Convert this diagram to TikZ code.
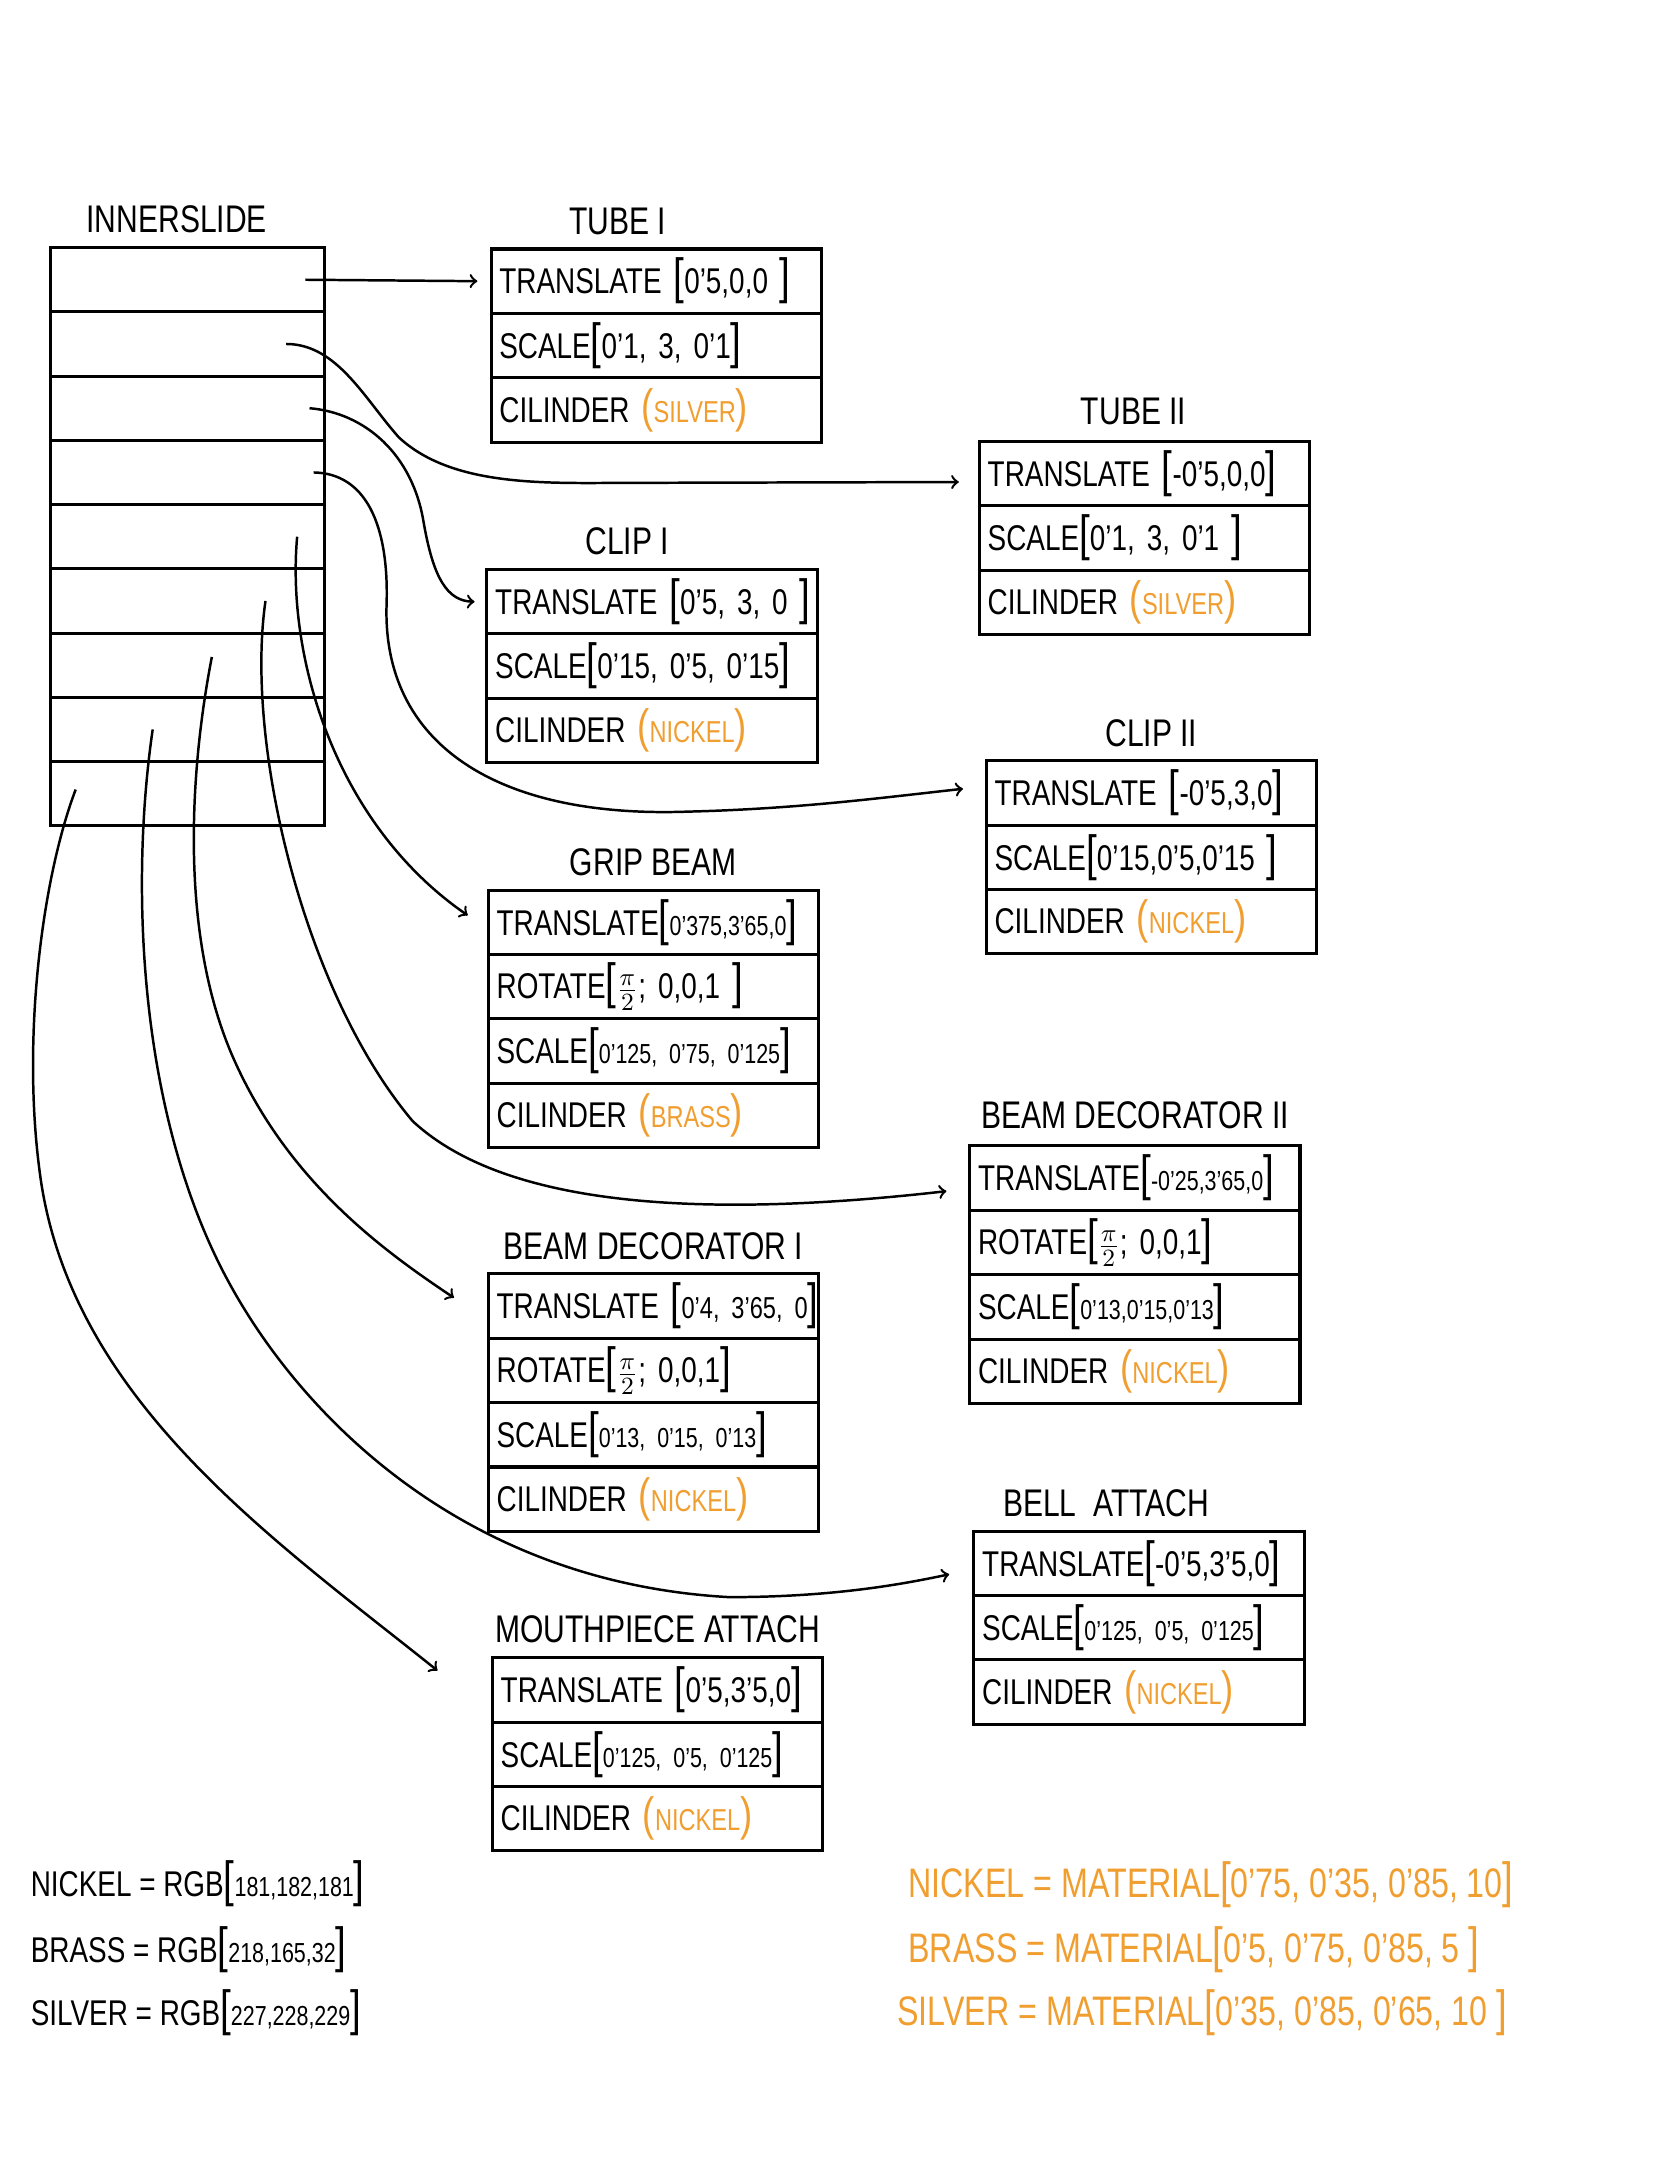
\documentclass[tikz,border=0pt]{standalone}
\usepackage{fontspec}
\setmainfont{Liberation Sans}[FakeStretch=0.78]
\usetikzlibrary{arrows,positioning}
\definecolor{matorange}{RGB}{240,158,48}
\newcommand{\br}[1]{{\fontsize{18}{18}\selectfont[}#1{\fontsize{18}{18}\selectfont]}}
\newcommand{\mat}[1]{\textcolor{matorange}{{\fontsize{17}{17}\selectfont(}{\fontsize{11}{11}\selectfont #1}{\fontsize{17}{17}\selectfont)}}}
\newcommand{\tight}[1]{{\fontsize{10}{10}\selectfont #1}}
\newcommand{\mids}[1]{{\fontsize{11}{11}\selectfont #1}}
\newcommand{\halfpi}{$\frac{\pi}{2}$}

\begin{document}
\begin{tikzpicture}[x=0.5pt,y=-0.5pt,
				every node/.style={font=\fontsize{13}{13}\selectfont},
				cell/.style={draw,line width=1.1pt,outer sep=0pt,inner xsep=3pt,inner ysep=1pt,
					text width=114pt,minimum height=23.4pt,align=left,
					execute at begin node=\hbox\bgroup,execute at end node=\egroup},
				slot/.style={draw,line width=1.1pt,outer sep=0pt,minimum width=99.5pt,minimum height=23.35pt},
				title/.style={inner sep=1pt,font=\fontsize{14}{14}\selectfont},
				matkey/.style={anchor=west,inner sep=0pt,font=\fontsize{15}{15}\selectfont,text=matorange},
				rgbkey/.style={anchor=west,inner sep=0pt},
				link/.style={->,line width=0.9pt},
				>=to
				]
				\useasboundingbox (0,0) rectangle (1213,1568);
				
				% inner slide
				\node[slot,anchor=north west] (slide1) at (37,180) {};
				\node[slot,below=0pt of slide1] (slide2) {};
				\node[slot,below=0pt of slide2] (slide3) {};
				\node[slot,below=0pt of slide3] (slide4) {};
				\node[slot,below=0pt of slide4] (slide5) {};
				\node[slot,below=0pt of slide5] (slide6) {};
				\node[slot,below=0pt of slide6] (slide7) {};
				\node[slot,below=0pt of slide7] (slide8) {};
				\node[slot,below=0pt of slide8] (slide9) {};
				\node[title,above=4pt of slide1,xshift=-4pt] (innerslide) {INNERSLIDE};
				
				% tube I
				\node[cell,anchor=north west] (tubeA1) at (357,181) {TRANSLATE \br{0'5,0,0 }};
				\node[cell,below=0pt of tubeA1] (tubeA2) {SCALE\br{0'1, 3, 0'1}};
				\node[cell,below=0pt of tubeA2] (tubeA3) {CILINDER \mat{SILVER}};
				\node[title,above=4pt of tubeA1,xshift=-14pt] (tubeAt) {TUBE I};
				
				% tube II
				\node[cell,anchor=north west] (tubeB1) at (712,321) {TRANSLATE \br{-0'5,0,0}};
				\node[cell,below=0pt of tubeB1] (tubeB2) {SCALE\br{0'1, 3, 0'1 }};
				\node[cell,below=0pt of tubeB2] (tubeB3) {CILINDER \mat{SILVER}};
				\node[title,above=5pt of tubeB1,xshift=-4pt] (tubeBt) {TUBE II};
				
				% clip I
				\node[cell,anchor=north west] (clipA1) at (354,414) {TRANSLATE \br{0'5, 3, 0 }};
				\node[cell,below=0pt of clipA1] (clipA2) {SCALE\br{0'15, 0'5, 0'15}};
				\node[cell,below=0pt of clipA2] (clipA3) {CILINDER \mat{NICKEL}};
				\node[title,above=4pt of clipA1,xshift=-9pt] (clipAt) {CLIP I};
				
				% clip II
				\node[cell,anchor=north west] (clipB1) at (717,553) {TRANSLATE \br{-0'5,3,0}};
				\node[cell,below=0pt of clipB1] (clipB2) {SCALE\br{0'15,0'5,0'15 }};
				\node[cell,below=0pt of clipB2] (clipB3) {CILINDER \mat{NICKEL}};
				\node[title,above=4pt of clipB1] (clipBt) {CLIP II};
				
				% grip beam
				\node[cell,anchor=north west] (grip1) at (355,647) {TRANSLATE\br{\tight{0'375,3'65,0}}};
				\node[cell,below=0pt of grip1] (grip2) {ROTATE\br{\halfpi; 0,0,1 }};
				\node[cell,below=0pt of grip2] (grip3) {SCALE\br{\tight{0'125, 0'75, 0'125}}};
				\node[cell,below=0pt of grip3] (grip4) {CILINDER \mat{BRASS}};
				\node[title,above=4pt of grip1] (gript) {GRIP~BEAM};
				
				% beam decorator II
				\node[cell,anchor=north west] (decB1) at (705,833) {TRANSLATE\br{\tight{-0'25,3'65,0}}};
				\node[cell,below=0pt of decB1] (decB2) {ROTATE\br{\halfpi; 0,0,1}};
				\node[cell,below=0pt of decB2] (decB3) {SCALE\br{\tight{0'13,0'15,0'13}}};
				\node[cell,below=0pt of decB3] (decB4) {CILINDER \mat{NICKEL}};
				\node[title,above=5pt of decB1] (decBt) {BEAM~DECORATOR II};
				
				% beam decorator I
				\node[cell,anchor=north west] (decA1) at (355,926) {TRANSLATE \br{\mids{0'4, 3'65, 0}}};
				\node[cell,below=0pt of decA1] (decA2) {ROTATE\br{\halfpi; 0,0,1}};
				\node[cell,below=0pt of decA2] (decA3) {SCALE\br{\tight{0'13, 0'15, 0'13}}};
				\node[cell,below=0pt of decA3] (decA4) {CILINDER \mat{NICKEL}};
				\node[title,above=4pt of decA1] (decAt) {BEAM~DECORATOR I};
				
				% bell attach
				\node[cell,anchor=north west] (bell1) at (708,1113) {TRANSLATE\br{-0'5,3'5,0}};
				\node[cell,below=0pt of bell1] (bell2) {SCALE\br{\tight{0'125, 0'5, 0'125}}};
				\node[cell,below=0pt of bell2] (bell3) {CILINDER \mat{NICKEL}};
				\node[title,above=4pt of bell1,xshift=-12pt] (bellt) {BELL~~ATTACH};
				
				% mouthpiece attach
				\node[cell,anchor=north west] (mouth1) at (358,1205) {TRANSLATE \br{0'5,3'5,0}};
				\node[cell,below=0pt of mouth1] (mouth2) {SCALE\br{\tight{0'125, 0'5, 0'125}}};
				\node[cell,below=0pt of mouth2] (mouth3) {CILINDER \mat{NICKEL}};
				\node[title,above=4pt of mouth1] (moutht) {MOUTHPIECE ATTACH};
				
				% the arrows
				\draw[link] ([xshift=-7pt]slide1.east) -- ([xshift=-5pt]tubeA1.west);
				\draw[link] ([xshift=-14pt]slide2.east) .. controls (245,250) and (265,290) .. (290,318)
					.. controls (330,355) and (400,351) .. (460,351) -- ([xshift=-7.5pt,yshift=-3pt]tubeB1.west);
				\draw[link] ([xshift=-5.5pt]slide3.east) .. controls (265,300) and (300,330) .. (308,380)
					.. controls (315,420) and (325,437) .. ([xshift=-4.5pt]clipA1.west);
				\draw[link] ([xshift=-4pt]slide4.east) .. controls (265,344) and (283,380) .. (281,440)
					.. controls (278,540) and (360,595) .. (500,590)
					.. controls (580,588) and (640,580) .. ([xshift=-8.5pt,yshift=1.5pt]clipB1.west);
				\draw[link] ([xshift=-10pt]slide5.east) .. controls (208,480) and (245,600) .. ([xshift=-7.5pt,yshift=2.5pt]grip1.west);
				\draw[link] ([xshift=-21.5pt]slide6.east) .. controls (178,540) and (220,720) .. (300,815)
					.. controls (370,880) and (520,885) .. ([xshift=-8.5pt,yshift=-4.75pt]decB1.west);
				\draw[link] ([xshift=-41pt,yshift=3pt]slide7.east) .. controls (138,560) and (130,680) .. (170,770)
					.. controls (210,860) and (280,910) .. ([xshift=-12.5pt,yshift=3pt]decA1.west);
				\draw[link] ([xshift=-62.5pt]slide8.east) .. controls (95,640) and (100,800) .. (160,920)
					.. controls (210,1020) and (330,1150) .. (530,1161)
					.. controls (600,1161) and (650,1153) .. ([xshift=-9pt,yshift=-4pt]bell1.west);
				\draw[link] ([xshift=-90.5pt,yshift=1.5pt]slide9.east) .. controls (30,640) and (15,760) .. (30,860)
					.. controls (55,1020) and (200,1120) .. ([xshift=-20pt,yshift=7pt]mouth1.west);
				
				% colours
				\node[rgbkey] (rgbN) at (22,1369) {NICKEL = RGB\br{\tight{181,182,181}}};
				\node[rgbkey] (rgbB) at (22,1417) {BRASS = RGB\br{\tight{218,165,32}}};
				\node[rgbkey] (rgbS) at (22,1463) {SILVER = RGB\br{\tight{227,228,229}}};
				
				% materials
				\node[matkey] (matN) at (660,1370) {NICKEL = MATERIAL\br{0'75, 0'35, 0'85, 10}};
				\node[matkey] (matB) at (660,1417) {BRASS = MATERIAL\br{0'5, 0'75, 0'85, 5 }};
				\node[matkey] (matS) at (652,1463) {SILVER = MATERIAL\br{0'35, 0'85, 0'65, 10 }};
			\end{tikzpicture}
\end{document}
